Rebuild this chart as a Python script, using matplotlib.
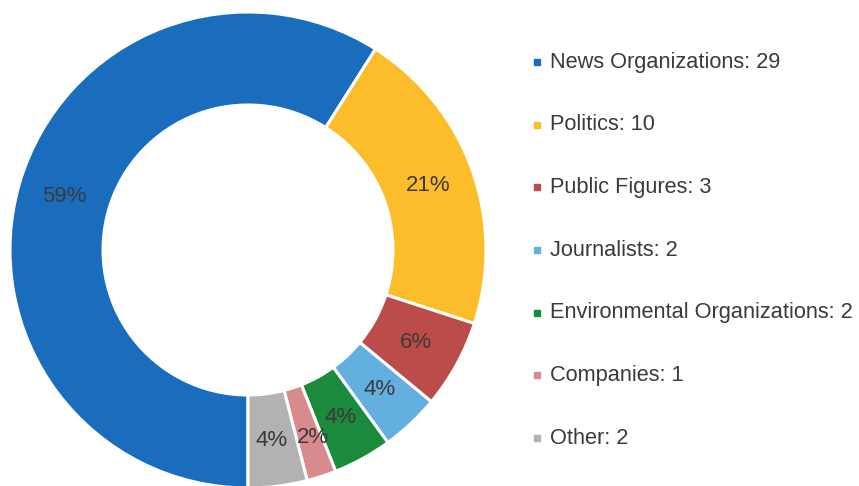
import numpy as np
import matplotlib.pyplot as plt

plt.rcParams['font.family'] = ['Liberation Sans', 'DejaVu Sans']

categories = ['News Organizations', 'Politics', 'Public Figures', 'Journalists',
              'Environmental Organizations', 'Companies', 'Other']
counts = [29, 10, 3, 2, 2, 1, 2]
percents = [59, 21, 6, 4, 4, 2, 4]
colors = ['#1a6dbd', '#fcbd2b', '#bb4c4a', '#63b0e0', '#1c8a3c', '#d98a8d', '#b2b2b2']

W, H = 859, 486
R = 238.0          # outer radius, px
cx, cy = 248, 250  # donut centre, px from top-left
text_col = '#3a3a3a'

fig = plt.figure(figsize=(W / 100, H / 100), dpi=100)
ax = fig.add_axes([0, 0, 1, 1])

wedges, _ = ax.pie(percents, colors=colors, startangle=270, counterclock=False,
                   radius=1.0, wedgeprops=dict(width=93 / R, edgecolor='white', linewidth=2.2))

# pie() resets the limits, so set them afterwards
ax.set_xlim(-cx / R, (W - cx) / R)
ax.set_ylim(-(H - cy) / R, cy / R)
ax.set_aspect('equal')
ax.axis('off')

# percentage labels in the middle of the ring
for w, p in zip(wedges, percents):
    mid = np.deg2rad((w.theta1 + w.theta2) / 2)
    r = 0.805
    x, y = r * np.cos(mid), r * np.sin(mid)
    if p == 2:
        # the thin slice label sits a little off-centre
        x, y = x + 6 / R, y - 5 / R
    ax.text(x, y, f'{p}%', ha='center', va='center',
            fontsize=16, color=text_col)

# legend on the right
top, step = 62, 62.67
for i, (lab, n, c) in enumerate(zip(categories, counts, colors)):
    ypix = top + i * step
    y = (cy - ypix) / R
    ax.plot((537 - cx) / R, y, marker='s', markersize=5, color=c, linestyle='none')
    ax.text((550 - cx) / R, y, f'{lab}: {n}', ha='left', va='center',
            fontsize=15.7, color=text_col)

fig.savefig('out.png', dpi=100)
